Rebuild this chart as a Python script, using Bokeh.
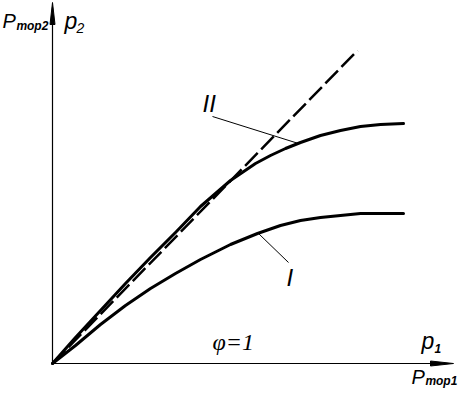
from bokeh.plotting import figure
from bokeh.models import Range1d
from bokeh.core.properties import value
from bokeh.embed import file_html
from bokeh.resources import INLINE

# ---- data (arbitrary units, origin at 0,0) ----
p1_curve_II = [0, 0.23, 0.48, 0.73, 0.98, 1.23, 1.48, 1.78, 2.03, 2.18, 2.33, 2.48, 2.68, 2.88, 3.08, 3.28, 3.51]
p2_curve_II = [0, 0.26, 0.53, 0.80, 1.06, 1.31, 1.57, 1.83, 2.00, 2.08, 2.15, 2.21, 2.28, 2.33, 2.37, 2.39, 2.40]

p1_curve_I = [0, 0.23, 0.48, 0.73, 0.98, 1.23, 1.48, 1.78, 2.05, 2.28, 2.48, 2.68, 2.88, 3.08, 3.28, 3.51]
p2_curve_I = [0, 0.18, 0.39, 0.58, 0.75, 0.90, 1.04, 1.19, 1.30, 1.38, 1.43, 1.46, 1.48, 1.50, 1.50, 1.50]

p1_dashed = [0, 3.05]
p2_dashed = [0, 3.13]

# leader lines: [label end, curve end]
leader_II_x = [1.60, 2.46]
leader_II_y = [2.47, 2.20]
leader_I_x = [2.06, 2.36]
leader_I_y = [1.30, 1.01]

x_axis_end = 4.01
y_axis_end = 3.61

p = figure(width=467, height=396,
           x_range=Range1d(-0.52, 4.15), y_range=Range1d(-0.33, 3.63),
           output_backend="svg", toolbar_location=None,
           x_axis_type=None, y_axis_type=None, min_border=0)
p.grid.visible = False
p.outline_line_color = None
p.background_fill_color = "white"
p.border_fill_color = "white"

# axes
p.line([0, 0], [0, y_axis_end - 0.05], line_color="black", line_width=1.2)
p.line([0, x_axis_end - 0.05], [0, 0], line_color="black", line_width=1.2)
# arrow heads (narrow)
p.patch([-0.025, 0.025, 0], [y_axis_end - 0.22, y_axis_end - 0.22, y_axis_end],
        fill_color="black", line_color="black", line_width=1)
p.patch([x_axis_end - 0.23, x_axis_end - 0.23, x_axis_end], [-0.025, 0.025, 0],
        fill_color="black", line_color="black", line_width=1)

# curves
p.line(p1_dashed, p2_dashed, line_color="black", line_width=2.5, line_dash="18 5")
p.line(p1_curve_II, p2_curve_II, line_color="black", line_width=3, line_join="round", line_cap="round")
p.line(p1_curve_I, p2_curve_I, line_color="black", line_width=3, line_join="round", line_cap="round")

# leaders
p.line(leader_II_x, leader_II_y, line_color="black", line_width=1)
p.line(leader_I_x, leader_I_y, line_color="black", line_width=1)

sans = value("Liberation Sans")
serif = value("Liberation Serif")

def label(x, y, t, size, style="italic", font=sans, align="left"):
    p.text(x=[x], y=[y], text=[t], text_font=font, text_font_size=size,
           text_font_style=style, text_align=align, text_baseline="alphabetic",
           text_color="black")

# top-left labels
label(-0.50, 3.43, "P", "20px")
label(-0.36, 3.38, "тор2", "12px", "bold italic")
label(0.12, 3.43, "p", "23px")
label(0.24, 3.36, "2", "14px")

# bottom-right labels
label(3.69, 0.23, "p", "23px")
label(3.82, 0.15, "1", "12px", "bold italic")
label(3.59, -0.13, "P", "20px")
label(3.73, -0.17, "тор1", "12px", "bold italic")

# curve labels
label(1.50, 2.60, "II", "24px")
label(2.34, 0.86, "I", "24px")

# phi
label(1.60, 0.22, "φ=1", "24px", "italic", serif)

open("out.html", "w").write(file_html(p, INLINE))
